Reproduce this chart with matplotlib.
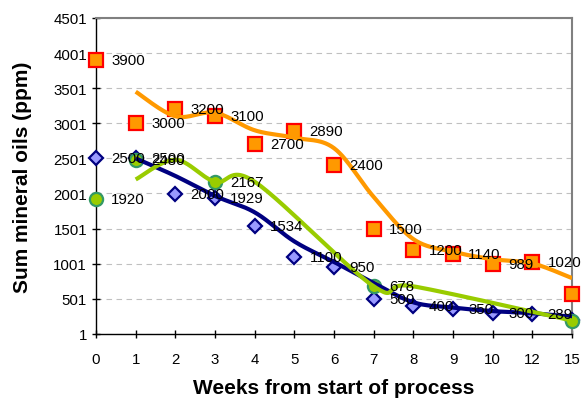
import numpy as np
import matplotlib.pyplot as plt

plt.rcParams['font.family'] = ['Liberation Sans', 'DejaVu Sans']

# weeks (category axis, equally spaced)
weeks = ['0', '1', '2', '3', '4', '5', '6', '7', '8', '9', '10', '12', '15']

# three sampling series, NaN = not measured
orange = [3900, 3000, 3200, 3100, 2700, 2890, 2400, 1500, 1200, 1140, 989, 1020, 570]
blue = [2500, 2500, 2000, 1929, 1534, 1100, 950, 500, 400, 350, 300, 289, 200]
green = [1920, 2480, np.nan, 2167, np.nan, np.nan, np.nan, 678, np.nan, np.nan, np.nan, np.nan, 190]

yticks = [1, 501, 1001, 1501, 2001, 2501, 3001, 3501, 4001, 4501]


def moving_avg(vals):
    # 2-period moving average, skipping missing values
    v = np.array(vals, dtype=float)
    out = np.full(len(v), np.nan)
    for i in range(1, len(v)):
        w = v[i - 1:i + 1]
        w = w[~np.isnan(w)]
        if len(w):
            out[i] = w.mean()
    return out


def smooth(xs, ys, n=30):
    # bezier smoothing through the points (catmull-rom style)
    P = np.column_stack([xs, ys])
    P = np.vstack([P[0], P, P[-1]])
    t = np.linspace(0, 1, n)[:, None]
    pts = []
    for i in range(1, len(P) - 2):
        p0, p1, p2, p3 = P[i - 1], P[i], P[i + 1], P[i + 2]
        c1 = p1 + (p2 - p0) / 6
        c2 = p2 - (p3 - p1) / 6
        seg = ((1 - t) ** 3) * p1 + 3 * ((1 - t) ** 2) * t * c1 + 3 * (1 - t) * t ** 2 * c2 + t ** 3 * p2
        pts.append(seg)
    pts = np.vstack(pts)
    return pts[:, 0], pts[:, 1]


fig = plt.figure(figsize=(5.82, 4.02), dpi=100)
ax = fig.add_axes([0.165, 0.167, 0.818, 0.786])
x = np.arange(len(weeks))

series = [
    (orange, 's', 10, '#FF9900', '#FF0000', '#FF9900'),
    (blue, 'D', 7.5, '#9999FF', '#000080', '#000080'),
    (green, 'o', 9.5, '#99CC00', '#339966', '#99CC00'),
]

for vals, mk, ms, fc, ec, lc in series:
    ax.plot(x, vals, linestyle='none', marker=mk, markersize=ms,
            markerfacecolor=fc, markeredgecolor=ec, markeredgewidth=1.6,
            clip_on=False, zorder=3)
    # labels for the last week fall off the chart, so they are left out
    for xi, v in zip(x[:-1], vals[:-1]):
        if not np.isnan(v):
            ax.annotate(f'{v:g}', (xi, v), xytext=(11, 0), textcoords='offset points',
                        ha='left', va='center', fontsize=10.8, zorder=5)

for vals, mk, ms, fc, ec, lc in series:
    ma = moving_avg(vals)
    ok = ~np.isnan(ma)
    sx, sy = smooth(x[ok], ma[ok])
    ax.plot(sx, sy, color=lc, lw=3, solid_capstyle='butt', zorder=4)

ax.set_xlim(0, len(weeks) - 1)
ax.set_ylim(1, 4501)
ax.set_xticks(x)
ax.set_xticklabels(weeks)
ax.set_yticks(yticks)
ax.tick_params(axis='both', labelsize=10.8, direction='inout', length=6, width=1)
ax.tick_params(axis='x', pad=10)
ax.yaxis.grid(True, linestyle=(0, (5, 4)), color='#C0C0C0', lw=0.8)
ax.set_axisbelow(True)

for s in ['top', 'right']:
    ax.spines[s].set_color('#808080')
    ax.spines[s].set_linewidth(1.5)
for s in ['left', 'bottom']:
    ax.spines[s].set_color('black')
    ax.spines[s].set_linewidth(1)

ax.set_xlabel('Weeks from start of process', fontsize=15, fontweight='bold', labelpad=9)
ax.set_ylabel('Sum mineral oils (ppm)', fontsize=15, fontweight='bold', labelpad=15)

fig.savefig('out.png', dpi=100)
